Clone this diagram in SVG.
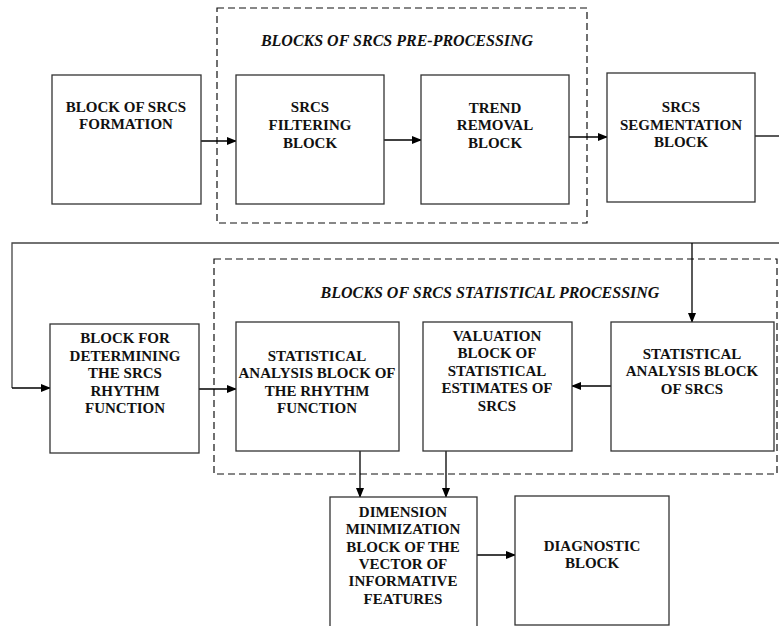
<svg xmlns="http://www.w3.org/2000/svg" width="779" height="626" viewBox="0 0 779 626">
<defs>
<marker id="ah" markerWidth="10" markerHeight="8" refX="9" refY="4" orient="auto" markerUnits="userSpaceOnUse">
<path d="M0,0 L10,4 L0,8 Z" fill="#000"/>
</marker>
<style>
.box{fill:#fff;stroke:#333;stroke-width:1.3}
.grp{fill:none;stroke:#111;stroke-width:1.2;stroke-dasharray:7 4}
.t{font-family:"Liberation Serif","Times New Roman",serif;font-weight:bold;font-size:15px;fill:#111;text-anchor:middle}
.ti{font-family:"Liberation Serif","Times New Roman",serif;font-weight:bold;font-style:italic;font-size:16px;fill:#111;text-anchor:middle}
.c{fill:none;stroke:#000;stroke-width:1.3}
.fb{fill:none;stroke:#444;stroke-width:1.3}
</style>
</defs>
<rect width="779" height="626" fill="#fff"/>

<g id="group-preprocessing">
<rect class="grp" x="217" y="8" width="370" height="215"/>
<text class="ti" x="397" y="46">BLOCKS OF SRCS PRE-PROCESSING</text>
</g>
<g id="group-statistical">
<rect class="grp" x="214" y="259" width="563" height="215"/>
<text class="ti" x="490" y="298">BLOCKS OF SRCS STATISTICAL PROCESSING</text>
</g>

<g id="connectors">
<line class="c" x1="201" y1="141" x2="236" y2="141" marker-end="url(#ah)"/>
<line class="c" x1="384" y1="140" x2="421" y2="140" marker-end="url(#ah)"/>
<line class="c" x1="569" y1="137" x2="607" y2="137" marker-end="url(#ah)"/>
<line class="c" x1="755" y1="136" x2="779" y2="136"/>
<polyline class="fb" points="779,243 12,243 12,388"/>
<line class="c" x1="12" y1="388" x2="50" y2="388" marker-end="url(#ah)"/>
<line class="c" x1="692" y1="243" x2="692" y2="322" marker-end="url(#ah)"/>
<line class="c" x1="199" y1="389" x2="236" y2="389" marker-end="url(#ah)"/>
<line class="c" x1="611" y1="386" x2="572" y2="386" marker-end="url(#ah)"/>
<line class="c" x1="360" y1="451" x2="360" y2="497" marker-end="url(#ah)"/>
<line class="c" x1="446" y1="451" x2="446" y2="497" marker-end="url(#ah)"/>
<line class="c" x1="477" y1="555" x2="515" y2="555" marker-end="url(#ah)"/>
</g>

<g id="formation">
<rect class="box" x="52" y="75" width="149" height="129"/>
<text class="t" x="126" y="112">BLOCK OF SRCS</text>
<text class="t" x="126" y="129">FORMATION</text>
</g>
<g id="filtering">
<rect class="box" x="236" y="75" width="148" height="129"/>
<text class="t" x="310" y="112">SRCS</text>
<text class="t" x="310" y="130">FILTERING</text>
<text class="t" x="310" y="148">BLOCK</text>
</g>
<g id="trend">
<rect class="box" x="421" y="75" width="148" height="129"/>
<text class="t" x="495" y="113">TREND</text>
<text class="t" x="495" y="130">REMOVAL</text>
<text class="t" x="495" y="148">BLOCK</text>
</g>
<g id="segmentation">
<rect class="box" x="607" y="73" width="148" height="129"/>
<text class="t" x="681" y="112">SRCS</text>
<text class="t" x="681" y="130">SEGMENTATION</text>
<text class="t" x="681" y="147">BLOCK</text>
</g>
<g id="rhythm">
<rect class="box" x="50" y="324" width="149" height="129"/>
<text class="t" x="125" y="343">BLOCK FOR</text>
<text class="t" x="125" y="361">DETERMINING</text>
<text class="t" x="125" y="378">THE SRCS</text>
<text class="t" x="125" y="396">RHYTHM</text>
<text class="t" x="125" y="413">FUNCTION</text>
</g>
<g id="rhythm-analysis">
<rect class="box" x="236" y="322" width="163" height="129"/>
<text class="t" x="317" y="361">STATISTICAL</text>
<text class="t" x="317" y="378">ANALYSIS BLOCK OF</text>
<text class="t" x="317" y="396">THE RHYTHM</text>
<text class="t" x="317" y="413">FUNCTION</text>
</g>
<g id="valuation">
<rect class="box" x="423" y="322" width="149" height="129"/>
<text class="t" x="497" y="341">VALUATION</text>
<text class="t" x="497" y="358">BLOCK OF</text>
<text class="t" x="497" y="376">STATISTICAL</text>
<text class="t" x="497" y="393">ESTIMATES OF</text>
<text class="t" x="497" y="411">SRCS</text>
</g>
<g id="srcs-analysis">
<rect class="box" x="611" y="322" width="163" height="129"/>
<text class="t" x="692" y="359">STATISTICAL</text>
<text class="t" x="692" y="376">ANALYSIS BLOCK</text>
<text class="t" x="692" y="394">OF SRCS</text>
</g>
<g id="dimension">
<rect class="box" x="330" y="497" width="147" height="140"/>
<text class="t" x="403" y="517">DIMENSION</text>
<text class="t" x="403" y="534">MINIMIZATION</text>
<text class="t" x="403" y="552">BLOCK OF THE</text>
<text class="t" x="403" y="569">VECTOR OF</text>
<text class="t" x="403" y="586">INFORMATIVE</text>
<text class="t" x="403" y="604">FEATURES</text>
</g>
<g id="diagnostic">
<rect class="box" x="515" y="496" width="154" height="129"/>
<text class="t" x="592" y="551">DIAGNOSTIC</text>
<text class="t" x="592" y="568">BLOCK</text>
</g>
</svg>
